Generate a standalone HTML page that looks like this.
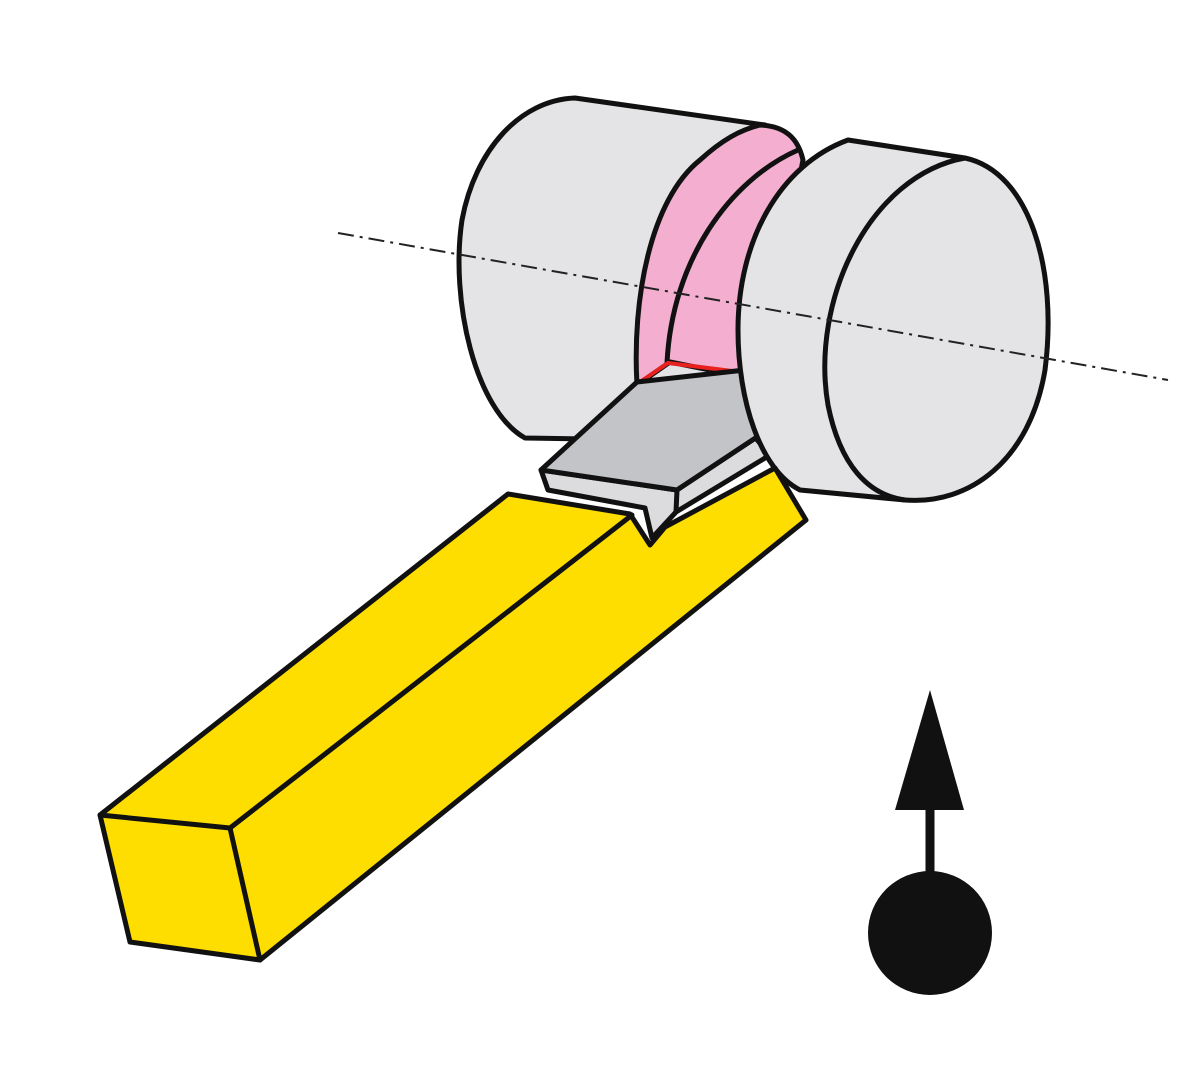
<!DOCTYPE html>
<html><head><meta charset="utf-8"><style>html,body{margin:0;padding:0;background:#fff}svg{display:block}</style></head>
<body>
<svg width="1198" height="1078" viewBox="0 0 1198 1078" xmlns="http://www.w3.org/2000/svg">
<g stroke="#111" stroke-width="5" stroke-linejoin="round" stroke-linecap="round">
<!-- left cylinder -->
<path d="M575,98 L765,125 L775,442 L525,438 C475,410 450,300 462,220 C475,150 520,100 575,98 Z" fill="#e4e4e6"/>
<!-- pink groove -->
<path d="M760,125 C785,126 798,138 803,160 L760,380 L670,362 L637,385 C632,300 650,200 700,160 C722,140 740,130 760,125 Z" fill="#f3aed0"/>
<path d="M798,150 C730,180 672,260 667,363" fill="none"/>
</g>
<path d="M640,382 L668,363 L740,372" stroke="#e8201e" stroke-width="4" fill="none"/>
<g stroke="#111" stroke-width="5" stroke-linejoin="round" stroke-linecap="round">
<!-- insert -->
<path d="M541,470 L548,490 L645,508 L652,538 L676,512 L770,455 L753,435 L677,490 Z" fill="#dcdcde"/>
<path d="M541,470 L637,382 L745,370 L760,435 L677,490 Z" fill="#c3c4c8"/>
<path d="M677,490 L676,512" fill="none"/>
<!-- right cylinder -->
<path d="M848,140 L965,158 C1030,172 1058,270 1045,370 C1030,460 970,505 905,500 L800,490 C760,470 738,400 738,330 C738,240 780,165 848,140 Z" fill="#e4e4e6"/>
<path d="M965,158 C870,175 810,300 828,405 C840,465 868,495 905,500" fill="none"/>
</g>
<!-- axis -->
<line x1="338" y1="233" x2="1168" y2="380" stroke="#222" stroke-width="2" stroke-dasharray="16,6,3,6"/>
<g stroke="#111" stroke-width="5" stroke-linejoin="round" stroke-linecap="round">
<!-- yellow holder -->
<path d="M100,815 L508,494 L630,514 L650,545 L665,527 L775,468 L806,520 L260,960 L130,942 Z" fill="#fedd00"/>
<path d="M100,815 L230,828 L260,960" fill="none"/>
<path d="M230,828 L632,515" fill="none"/>
</g>
<!-- arrow -->
<line x1="930" y1="880" x2="930" y2="800" stroke="#111" stroke-width="9"/>
<polygon points="930,690 895,810 964,810" fill="#111"/>
<circle cx="930" cy="933" r="62" fill="#111"/>
</svg>
</body></html>
